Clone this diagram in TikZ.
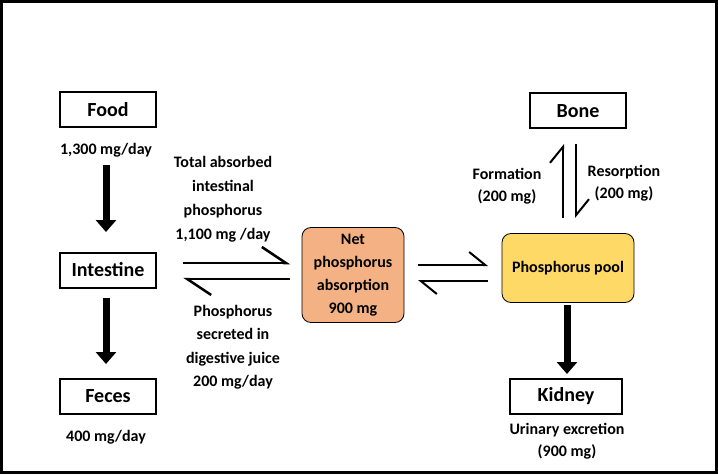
\documentclass[tikz,border=0pt]{standalone}
\usepackage{fontspec}
\setmainfont{Carlito}
\usetikzlibrary{arrows.meta}
\begin{document}
\begin{tikzpicture}[x=1pt,y=-1pt,
  box/.style={draw,line width=2pt,minimum width=96pt,minimum height=35pt,font=\bfseries\fontsize{20}{24}\selectfont,inner sep=0},
  rbox/.style={draw,line width=0.8pt,rounded corners=9pt,inner sep=0,font=\bfseries\fontsize{16}{19}\selectfont,align=center},
  lbl/.style={font=\bfseries\fontsize{16}{24}\selectfont,align=center,inner sep=0},
  big/.style={line width=7pt,-{Triangle[length=12pt,width=20pt]}},
  harp/.style={line width=2.5pt,-{Straight Barb[harpoon,length=24pt,width=32pt,line width=2.5pt]}},
  sharp/.style={line width=2pt,-{Straight Barb[harpoon,length=16pt,width=26pt,line width=2pt]}}]
\useasboundingbox (0,0) rectangle (718,476);
\draw[line width=3pt] (1.5,1.5) rectangle (716.5,472);
\node[box] (food) at (108,110) {Food};
\node[lbl] (fl) at (106,150) {1,300 mg/day};
\node[box] (int) at (108,270) {Intestine};
\node[box] (fec) at (108,396) {Feces};
\node[lbl] (fcl) at (106,437) {400 mg/day};
\draw[big] (106,165) -- (106,232);
\draw[big] (106,298) -- (106,364);
\node[lbl] (tl) at (223,199) {Total absorbed\\intestinal\\phosphorus\\1,100 mg /day};
\node[lbl,font=\bfseries\fontsize{16}{23.5}\selectfont] (sl) at (233,347) {Phosphorus\\secreted in\\digestive juice\\200 mg/day};
\node[rbox,fill={rgb,255:red,244;green,177;blue,131},minimum width=102pt,minimum height=95pt,font=\bfseries\fontsize{16}{23}\selectfont] (net) at (353,275) {Net\\phosphorus\\absorption\\900 mg};
\node[rbox,fill={rgb,255:red,255;green,217;blue,102},minimum width=132pt,minimum height=69pt] (pool) at (568,268) {Phosphorus pool};
\node[box] (bone) at (578,111) {Bone};
\node[box,minimum width=112pt] (kid) at (566,396) {Kidney};
\coordinate (a1) at (183,263); \coordinate (a2) at (290,263);
\coordinate (b1) at (290,279); \coordinate (b2) at (183,279);
\draw[harp] (a1) -- (a2);
\draw[harp] (b1) -- (b2);
\coordinate (c1) at (418,265); \coordinate (c2) at (488,265);
\coordinate (d1) at (488,281); \coordinate (d2) at (418,281);
\draw[sharp] (c1) -- (c2);
\draw[sharp] (d1) -- (d2);
\coordinate (e1) at (563,218); \coordinate (e2) at (563,144);
\coordinate (f1) at (576,144); \coordinate (f2) at (576,218);
\draw[sharp] (e1) -- (e2);
\draw[sharp] (f1) -- (f2);
\node[lbl,font=\bfseries\fontsize{16}{22}\selectfont] (form) at (507,186) {Formation\\(200 mg)};
\node[lbl,font=\bfseries\fontsize{16}{22}\selectfont] (res) at (624,183) {Resorption\\(200 mg)};
\draw[big] (567,305) -- (567,374);
\node[lbl,font=\bfseries\fontsize{16}{22}\selectfont] (ur) at (567,441) {Urinary excretion\\(900 mg)};
\end{tikzpicture}
\end{document}
